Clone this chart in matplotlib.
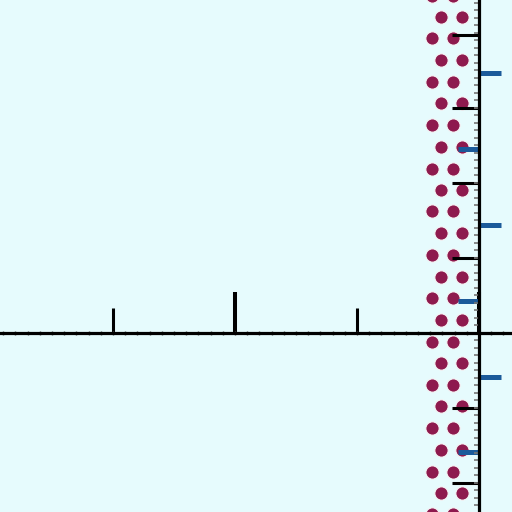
import matplotlib
matplotlib.use("Agg")
import matplotlib.pyplot as plt
from matplotlib.ticker import FixedLocator, MultipleLocator, NullFormatter

# ---- data ----
col_a_x = [-0.385, -0.213]
col_a_y = [4.50, 3.93, 3.35, 2.77, 2.19, 1.62, 1.04, 0.46, -0.12, -0.69, -1.27, -1.85, -2.42]
col_b_x = [-0.311, -0.139]
col_b_y = [4.21, 3.64, 3.06, 2.48, 1.91, 1.33, 0.75, 0.17, -0.40, -0.98, -1.56, -2.13]

x_short_ticks = [-3, -1]
x_long_ticks = [-4, -2, 0]
y_black_ticks = [-2, -1, 1, 2, 3, 3.97]
y_blue_right = [3.47, 1.44, -0.59]
y_blue_left = [2.45, 0.43, -1.59]

BG = "#e6fbfd"
DOT = "#8e1a4e"
BLUE = "#1b5a9a"

fig = plt.figure(figsize=(5.12, 5.12), dpi=100)
fig.patch.set_facecolor(BG)
ax = fig.add_axes([0, 0, 1, 1])
ax.set_facecolor(BG)

for xv in col_a_x:
    ax.scatter([xv] * len(col_a_y), col_a_y, s=92, color=DOT, edgecolors="#f7f7f7",
               linewidths=0.8, zorder=1)
for xv in col_b_x:
    ax.scatter([xv] * len(col_b_y), col_b_y, s=92, color=DOT, edgecolors="#f7f7f7",
               linewidths=0.8, zorder=1)

ax.set_xlim(-3.926, 0.2705)
ax.set_ylim(-2.387, 4.44)

for name in ["left", "bottom", "right", "top"]:
    ax.spines[name].set_position(("data", 0))
ax.spines["left"].set_linewidth(2.3)
ax.spines["bottom"].set_linewidth(2.3)
ax.spines["right"].set_visible(False)
ax.spines["top"].set_visible(False)
ax.spines["left"].set_zorder(6)
ax.spines["bottom"].set_zorder(6)

# x ticks: short ticks (major, bottom spine, pointing up), long ticks (minor, top spine, pointing up)
ax.xaxis.set_major_locator(FixedLocator(x_short_ticks))
ax.xaxis.set_minor_locator(FixedLocator(x_long_ticks))
ax.tick_params(axis="x", which="major", bottom=True, top=False, direction="in",
               length=18, width=2.2, color="black", labelbottom=False, labeltop=False)
ax.tick_params(axis="x", which="minor", bottom=False, top=True, direction="out",
               length=29.5, width=2.9, color="black")

# y ticks: black major ticks on the left, blue ticks on the right
ax.yaxis.set_major_locator(FixedLocator(y_black_ticks))
ax.yaxis.set_minor_locator(FixedLocator(y_blue_right))
ax.tick_params(axis="y", which="major", left=True, right=False, direction="out",
               length=19.4, width=2.2, color="black", labelleft=False, labelright=False)
ax.tick_params(axis="y", which="minor", left=False, right=True, direction="out",
               length=16, width=3.6, color=BLUE)
ax.xaxis.set_major_formatter(NullFormatter())
ax.yaxis.set_major_formatter(NullFormatter())

# blue ticks on the left side of the vertical axis
secb = ax.secondary_yaxis(0, transform=ax.transData)
secb.yaxis.set_major_locator(FixedLocator(y_blue_left))
secb.tick_params(axis="y", which="major", left=True, right=False, direction="out",
                 length=15, width=3.6, color=BLUE, labelleft=False, labelright=False)
for s in secb.spines.values():
    s.set_visible(False)
secb.set_zorder(5)

# tiny ticks along both axes
secx = ax.secondary_xaxis(0, transform=ax.transData)
secx.xaxis.set_major_locator(MultipleLocator(0.1))
secx.tick_params(axis="x", direction="inout", length=3.5, width=1.0, color="#555555",
                 labelbottom=False, labeltop=False, top=True, bottom=False)
for s in secx.spines.values():
    s.set_visible(False)
secx.set_zorder(5)

secy = ax.secondary_yaxis(0, transform=ax.transData)
secy.yaxis.set_major_locator(MultipleLocator(0.1))
secy.tick_params(axis="y", direction="out", length=3.5, width=1.2, color="#777777",
                 labelleft=False, labelright=False, left=True, right=False)
for s in secy.spines.values():
    s.set_visible(False)
secy.set_zorder(5)

fig.savefig("out.png", dpi=100, facecolor=BG)
